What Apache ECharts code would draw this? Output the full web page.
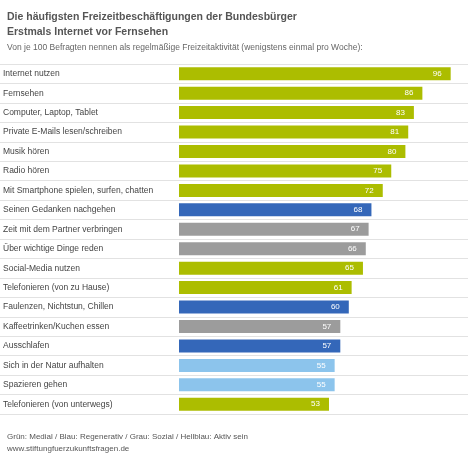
<!DOCTYPE html>
<html>
<head>
<meta charset="utf-8">
<script src="https://cdn.jsdelivr.net/npm/echarts@6/dist/echarts.min.js"></script>
<style>
body{margin:0;background:#fff;}
#chart{width:468px;height:456px;}
</style>
</head>
<body>
<div id="chart"></div>
<script>
var categories = ['Internet nutzen','Fernsehen','Computer, Laptop, Tablet','Private E-Mails lesen/schreiben','Musik hören','Radio hören','Mit Smartphone spielen, surfen, chatten','Seinen Gedanken nachgehen','Zeit mit dem Partner verbringen','Über wichtige Dinge reden','Social-Media nutzen','Telefonieren (von zu Hause)','Faulenzen, Nichtstun, Chillen','Kaffeetrinken/Kuchen essen','Ausschlafen','Sich in der Natur aufhalten','Spazieren gehen','Telefonieren (von unterwegs)'];
var values = [96,86,83,81,80,75,72,68,67,66,65,61,60,57,57,55,55,53];
// g = medial, b = regenerativ, s = sozial, h = aktiv
var groups = ['g','g','g','g','g','g','g','b','s','s','g','g','b','s','b','h','h','g'];
var groupColors = {g:'#acbd00', b:'#3467b9', s:'#9c9c9c', h:'#8cc4ec'};

var chart = echarts.init(document.getElementById('chart'));
var data = values.map(function(v,i){
	return {value:v, itemStyle:{color:groupColors[groups[i]]}};
});
chart.setOption({
	animation:false,
	title:[
		{text:'Die häufigsten Freizeitbeschäftigungen der Bundesbürger\nErstmals Internet vor Fernsehen', left:2, top:5,
		 textStyle:{fontSize:10.5, fontWeight:'bold', color:'#555', fontFamily:'Liberation Sans', lineHeight:15}},
		{text:'Von je 100 Befragten nennen als regelmäßige Freizeitaktivität (wenigstens einmal pro Woche):', left:2, top:38,
		 textStyle:{fontSize:8.5, fontWeight:'normal', color:'#666', fontFamily:'Liberation Sans'}},
		{text:'Grün: Medial / Blau: Regenerativ / Grau: Sozial / Hellblau: Aktiv sein\nwww.stiftungfuerzukunftsfragen.de', left:2, top:426,
		 textStyle:{fontSize:8, fontWeight:'normal', color:'#555', fontFamily:'Liberation Sans', lineHeight:12}}
	],
	grid:[
		{left:178, right:6, top:64, bottom:42},
		{left:0, right:0, top:64, bottom:42}
	],
	xAxis:[
		{type:'value', min:0, max:100, show:false, gridIndex:0},
		{type:'value', min:0, max:100, show:false, gridIndex:1}
	],
	yAxis:[
		{
			type:'category', inverse:true, data:categories, gridIndex:0,
			axisLine:{show:false}, axisTick:{show:false}, splitLine:{show:false},
			axisLabel:{align:'left', margin:176, color:'#444', fontSize:8.5, fontFamily:'Liberation Sans'}
		},
		{
			type:'category', inverse:true, data:categories, gridIndex:1,
			axisLine:{show:false}, axisTick:{show:false}, axisLabel:{show:false},
			splitLine:{show:true, lineStyle:{color:'#e2e2e2', width:1}}
		}
	],
	series:[{
		type:'bar', data:data, barWidth:13, xAxisIndex:0, yAxisIndex:0,
		label:{show:true, position:'insideRight', color:'#fff', fontSize:8, fontFamily:'Liberation Sans', offset:[-4,0]}
	}]
});
</script>
</body>
</html>
